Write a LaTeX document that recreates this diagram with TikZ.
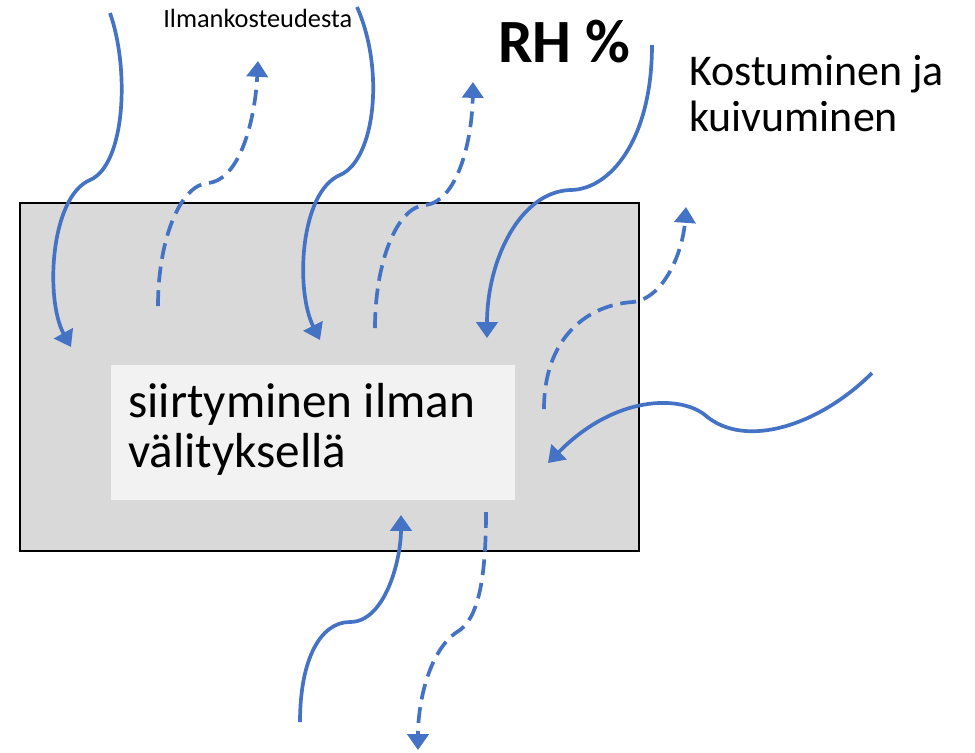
\documentclass[tikz,border=0pt]{standalone}
\usepackage{fontspec}
\setmainfont{Carlito}
\usepackage{xcolor}
\usepackage{tikz}
\usetikzlibrary{positioning, arrows.meta}

\definecolor{flowblue}{HTML}{4472C4}
\definecolor{wallgray}{HTML}{D9D9D9}
\definecolor{gapgray}{HTML}{F2F2F2}

\begin{document}
\begin{tikzpicture}[
  x=0.02cm, y=-0.02cm,
  wallbox/.style={draw, line width=1.3pt, fill=wallgray, rectangle, inner sep=0pt},
  gapbox/.style={fill=gapgray, rectangle, inner sep=0pt},
  txt/.style={inner sep=0pt, anchor=base west},
  flow/.style={draw=flowblue, line width=2.1pt, -{Triangle[width=12pt, length=9pt]}},
  vapour/.style={flow, dash pattern=on 9pt off 4.5pt}
]
  \useasboundingbox (0,0) rectangle (975,752);

  % 1. Wall and the air gap inside it
  \node[wallbox, anchor=north west, minimum width=12.38cm, minimum height=6.96cm] (wall) at (19,202) {};
  \node[gapbox, anchor=north west, minimum width=8.08cm, minimum height=2.7cm] (gap) at (111,365) {};

  % 2. Texts
  \node[txt, font=\fontsize{28}{34}\selectfont] (gap1) at (128,417) {siirtyminen ilman};
  \node[txt, font=\fontsize{28}{34}\selectfont, below=1.0cm of gap1.base west, anchor=base west] (gap2) {välityksellä};
  \node[txt, font=\fontsize{15}{18}\selectfont] (air) at (163,27) {Ilmankosteudesta};
  \node[txt, font=\fontsize{35}{42}\selectfont\bfseries] (rh) at (498,62) {RH \%};
  \node[txt, font=\fontsize{25}{30}\selectfont] (wet1) at (689,85) {Kostuminen ja};
  \node[txt, font=\fontsize{25}{30}\selectfont, below=0.94cm of wet1.base west, anchor=base west] (wet2) {kuivuminen};

  % 3. Moisture coming in from the air (solid)
  \draw[flow] (110,13) .. controls (130,70) and (125,165) .. (90,180)
                       .. controls (50,197) and (45,300) .. (71,347);
  \draw[flow] (357,7) .. controls (385,70) and (375,160) .. (340,175)
                      .. controls (300,192) and (295,290) .. (320,340);
  \draw[flow] (652,45) .. controls (652,140) and (610,190) .. (570,190)
                       .. controls (520,192) and (487,260) .. (487,338);
  \draw[flow] (872,373) .. controls (820,425) and (745,450) .. (705,415)
                        .. controls (680,395) and (615,395) .. (548,463);
  \draw[flow] (300,722) .. controls (300,660) and (320,622) .. (350,622)
                        .. controls (385,622) and (401,560) .. (401,515);

  % 4. Drying out (dashed)
  \draw[vapour] (158,306) .. controls (158,240) and (180,185) .. (208,183)
                          .. controls (240,180) and (255,120) .. (258,61);
  \draw[vapour] (375,328) .. controls (375,262) and (397,207) .. (425,205)
                          .. controls (457,202) and (472,142) .. (473,82);
  \draw[vapour] (544,409) .. controls (544,340) and (585,305) .. (633,302)
                          .. controls (665,298) and (683,250) .. (686,207);
  \draw[vapour] (486,512) .. controls (486,580) and (478,620) .. (457,632)
                          .. controls (430,650) and (418,700) .. (418,750);

\end{tikzpicture}
\end{document}
